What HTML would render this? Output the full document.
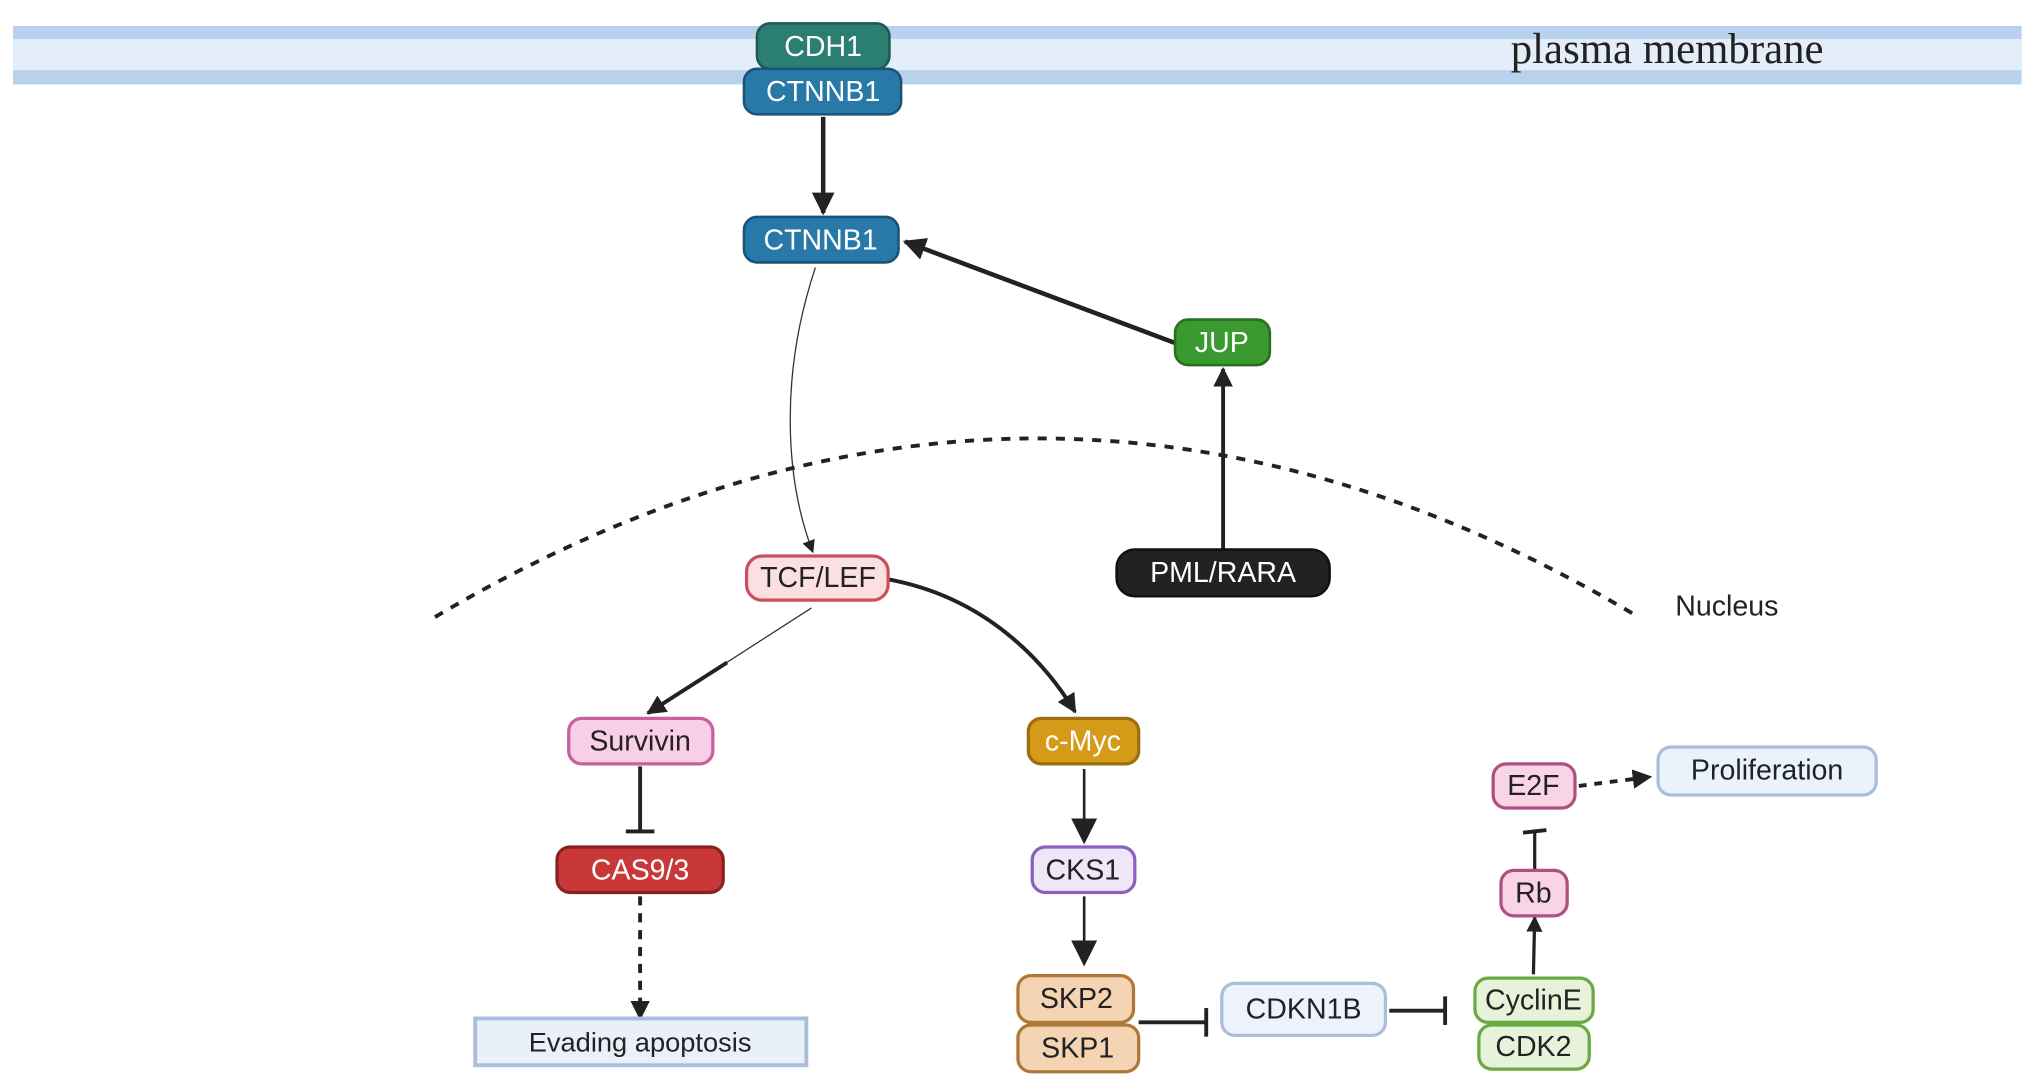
<!DOCTYPE html>
<html><head><meta charset="utf-8"><style>
html,body{margin:0;padding:0;background:#fff}
svg{display:block}
text{font-family:"Liberation Sans",sans-serif;text-anchor:middle;dominant-baseline:central}
</style></head><body>
<svg width="2032" height="1086" viewBox="0 0 1565 836" preserveAspectRatio="none" xmlns="http://www.w3.org/2000/svg">
<defs>
<marker id="a" viewBox="0 0 10 10" refX="9" refY="5" markerWidth="5" markerHeight="5" orient="auto-start-reverse"><path d="M0,0L10,5L0,10z" fill="#222"/></marker>
<marker id="a2" viewBox="0 0 10 10" refX="9" refY="5" markerWidth="10" markerHeight="10" orient="auto"><path d="M0,0L10,5L0,10z" fill="#222"/></marker>
</defs>
<rect x="10" y="20" width="1547" height="45" fill="#b8d2ee"/>
<rect x="10" y="30" width="1547" height="24" fill="#e4eefa"/>
<text x="1284" y="38" style="font-family:'Liberation Serif',serif;font-size:33px;fill:#222">plasma membrane</text>

<!-- connectors -->
<line x1="634" y1="90" x2="634" y2="164" stroke="#222" stroke-width="3.5" marker-end="url(#a)"/>
<line x1="905" y1="264" x2="697" y2="186" stroke="#222" stroke-width="3.5" marker-end="url(#a)"/>
<line x1="942" y1="423" x2="942" y2="284" stroke="#222" stroke-width="3" marker-end="url(#a)"/>
<path d="M628,206 C600,290 605,370 626,425" fill="none" stroke="#333" stroke-width="1" marker-end="url(#a2)"/>
<path d="M335,475 Q800,200 1262,475" fill="none" stroke="#222" stroke-width="3" stroke-dasharray="7,7"/>
<text x="1330" y="467" style="font-size:22px;fill:#222">Nucleus</text>
<line x1="625" y1="468" x2="555" y2="513" stroke="#333" stroke-width="1"/>
<line x1="560" y1="510" x2="499" y2="549" stroke="#222" stroke-width="3" marker-end="url(#a)"/>
<path d="M684,446 C760,460 805,510 828,548" fill="none" stroke="#222" stroke-width="3" marker-end="url(#a)"/>
<line x1="493" y1="590" x2="493" y2="640" stroke="#222" stroke-width="3"/>
<line x1="482" y1="640" x2="504" y2="640" stroke="#222" stroke-width="3"/>
<line x1="493" y1="690" x2="493" y2="784" stroke="#222" stroke-width="3" stroke-dasharray="7,6" marker-end="url(#a)"/>
<line x1="835" y1="592" x2="835" y2="648" stroke="#222" stroke-width="2" marker-end="url(#a2)"/>
<line x1="835" y1="690" x2="835" y2="742" stroke="#222" stroke-width="2" marker-end="url(#a2)"/>
<line x1="877" y1="787" x2="928" y2="787" stroke="#222" stroke-width="3"/>
<line x1="929" y1="776" x2="929" y2="798" stroke="#222" stroke-width="3"/>
<line x1="1070" y1="778" x2="1112" y2="778" stroke="#222" stroke-width="3"/>
<line x1="1113" y1="767" x2="1113" y2="789" stroke="#222" stroke-width="3"/>
<line x1="1181" y1="750" x2="1182" y2="706" stroke="#222" stroke-width="2.5" marker-end="url(#a)"/>
<line x1="1182" y1="670" x2="1182" y2="640" stroke="#222" stroke-width="2.5"/>
<line x1="1173" y1="641" x2="1191" y2="639" stroke="#222" stroke-width="3"/>
<line x1="1216" y1="605" x2="1271" y2="598" stroke="#222" stroke-width="3" stroke-dasharray="6,6" marker-end="url(#a)"/>

<!-- nodes -->
<g style="font-size:22px">
<rect x="583" y="18" width="102" height="35" rx="10" fill="#2a7f72" stroke="#1d5a50" stroke-width="2"/><text x="634" y="36" fill="#fff">CDH1</text>
<rect x="573" y="53" width="121" height="35" rx="10" fill="#2878a8" stroke="#1b5478" stroke-width="2"/><text x="634" y="71" fill="#fff">CTNNB1</text>
<rect x="573" y="167" width="119" height="35" rx="10" fill="#2878a8" stroke="#1b5478" stroke-width="2"/><text x="632" y="185" fill="#fff">CTNNB1</text>
<rect x="905" y="246" width="73" height="35" rx="10" fill="#3a9a30" stroke="#27701f" stroke-width="2"/><text x="941" y="264" fill="#fff">JUP</text>
<rect x="860" y="423" width="164" height="36" rx="14" fill="#222" stroke="#111" stroke-width="2"/><text x="942" y="441" fill="#fff">PML/RARA</text>
<rect x="575" y="428" width="109" height="34" rx="12" fill="#fbe0e2" stroke="#c85060" stroke-width="2.5"/><text x="630" y="445" fill="#222">TCF/LEF</text>
<rect x="438" y="553" width="111" height="35" rx="10" fill="#f8cfe6" stroke="#c860a0" stroke-width="2.5"/><text x="493" y="571" fill="#222">Survivin</text>
<rect x="792" y="553" width="85" height="35" rx="10" fill="#d49a18" stroke="#9c6e0c" stroke-width="2.5"/><text x="834" y="571" fill="#fff">c-Myc</text>
<rect x="429" y="652" width="128" height="35" rx="10" fill="#c83838" stroke="#8a2020" stroke-width="2.5"/><text x="493" y="670" fill="#fff">CAS9/3</text>
<rect x="366" y="784" width="255" height="36" fill="#eaf0fa" stroke="#a8bedb" stroke-width="3"/><text x="493" y="802" fill="#222" style="font-size:21px">Evading apoptosis</text>
<rect x="795" y="652" width="79" height="35" rx="10" fill="#efe6f8" stroke="#8a60c0" stroke-width="2.5"/><text x="834" y="670" fill="#222">CKS1</text>
<rect x="784" y="751" width="89" height="36" rx="10" fill="#f4d4b2" stroke="#b07838" stroke-width="2.5"/><text x="829" y="769" fill="#222">SKP2</text>
<rect x="784" y="789" width="93" height="36" rx="10" fill="#f4d4b2" stroke="#b07838" stroke-width="2.5"/><text x="830" y="807" fill="#222">SKP1</text>
<rect x="941" y="757" width="126" height="40" rx="10" fill="#eef2fc" stroke="#a8bedb" stroke-width="2.5"/><text x="1004" y="777" fill="#222">CDKN1B</text>
<rect x="1136" y="753" width="91" height="34" rx="10" fill="#e6f2da" stroke="#6aaa40" stroke-width="2.5"/><text x="1181" y="770" fill="#222">CyclinE</text>
<rect x="1139" y="789" width="85" height="34" rx="10" fill="#e6f2da" stroke="#6aaa40" stroke-width="2.5"/><text x="1181" y="806" fill="#222">CDK2</text>
<rect x="1156" y="670" width="51" height="35" rx="10" fill="#f8d4e4" stroke="#b05080" stroke-width="2.5"/><text x="1181" y="688" fill="#222">Rb</text>
<rect x="1150" y="588" width="63" height="34" rx="10" fill="#f8d4e4" stroke="#b05080" stroke-width="2.5"/><text x="1181" y="605" fill="#222">E2F</text>
<rect x="1277" y="575" width="168" height="37" rx="10" fill="#eaf2fc" stroke="#a8bedb" stroke-width="2.5"/><text x="1361" y="593" fill="#222">Proliferation</text>
</g>
</svg>
</body></html>
